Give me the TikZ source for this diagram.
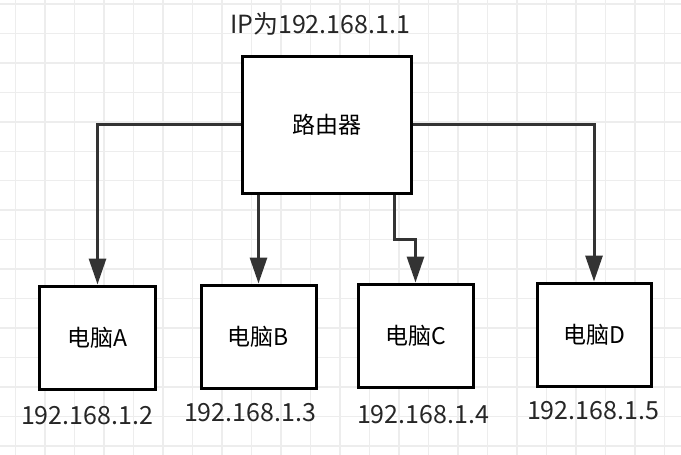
\documentclass[tikz,border=0pt]{standalone}
\usepackage{fontspec}
\setmainfont{Noto Sans CJK SC}
\usetikzlibrary{arrows.meta,positioning}
\definecolor{gridGray}{HTML}{EDEDED}
\definecolor{lineDark}{HTML}{333333}
\tikzset{
    box/.style={draw=black, line width=3pt, fill=white, inner sep=0pt,
                minimum width=115pt, minimum height=103pt, font=\fontsize{23}{26}\selectfont},
    link/.style={draw=lineDark, line width=3pt, -{Triangle[width=17pt,length=26pt]}},
    ipText/.style={font=\fontsize{25}{29}\selectfont, text=black!85}
}

\begin{document}
\begin{tikzpicture}[x=1pt, y=-1pt]
    \useasboundingbox (0,0) rectangle (681,455);
    % Background grid
    \fill[white] (0,0) rectangle (681,455);
    \foreach \gx in {0,...,22}
        \draw[gridGray, line width=1.5pt] ({15.7+29.5*\gx},0) -- ({15.7+29.5*\gx},455);
    \foreach \gy in {0,...,15}
        \draw[gridGray, line width=1.5pt] (0,{4+29.45*\gy}) -- (681,{4+29.45*\gy});

    % Router
    \node[box, minimum width=169pt, minimum height=137pt] (router) at (326.5, 124.5) {路由器};
    \node[ipText] (routerIP) at (320, 24) {IP为192.168.1.1};

    % Computers
    \node[box, minimum width=116pt] (pcA) at (97.5, 337.5) {电脑A};
    \node[box] (pcB) at (258.5, 336.5) {电脑B};
    \node[box] (pcC) at (415.5, 335.5) {电脑C};
    \node[box, minimum width=114pt] (pcD) at (594, 334.5) {电脑D};

    \node[ipText] (ipA) at (87, 416) {192.168.1.2};
    \node[ipText] (ipB) at (250, 413) {192.168.1.3};
    \node[ipText] (ipC) at (423, 415) {192.168.1.4};
    \node[ipText] (ipD) at (593, 411) {192.168.1.5};

    % Connectors
    \coordinate (cBend) at (394, 239);
    \draw[link] (router.west) -| (pcA.north);
    \draw[link] (router.south -| pcB.north) -- (pcB.north);
    \draw[link] (router.south -| cBend) -- (cBend) -| (pcC.north);
    \draw[link] (router.east) -| (pcD.north);
\end{tikzpicture}
\end{document}
